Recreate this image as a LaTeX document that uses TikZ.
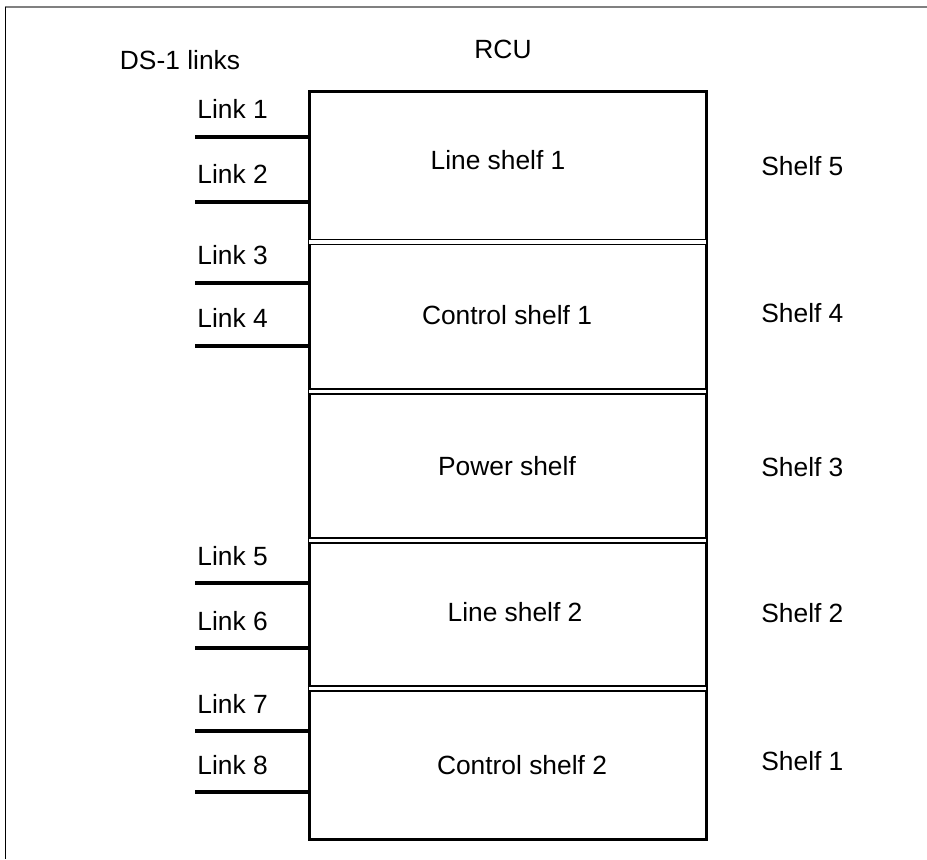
\documentclass[tikz,border=0pt]{standalone}
\usepackage{fontspec}
\setmainfont{Liberation Sans}
\usetikzlibrary{positioning}

\begin{document}
\begin{tikzpicture}[every node/.style={font=\fontsize{15}{18}\selectfont, inner sep=0pt}, x=0.2mm, y=-0.2mm,
  lab/.style={anchor=base west},
  mid/.style={anchor=base},
  linkline/.style={line width=0.75mm},
  divider/.style={line width=0.35mm, double, double distance=0.65mm}]
\useasboundingbox (0,0) rectangle (927,859);
% page frame
\draw[gray, line width=0.45mm] (5,7) -- (927,7);
\draw[line width=0.3mm] (5.5,7) -- (5.5,859);

\node[draw, line width=0.6mm, outer sep=0pt, minimum width=79.4mm, minimum height=149.4mm, anchor=north west] (rack) at (309,92) {};
\node[mid] (rcu) at (503,59) {RCU};
\node[mid] (ds) at (180,70) {DS-1 links};

% shelf dividers
\foreach \y in {242,391.5,540.5,688.5}
  \draw[divider] (rack.west |- 0,\y) -- (rack.east |- 0,\y);

% links
\foreach \n/\y in {1/137,2/202,3/283,4/346,5/583,6/648,7/731,8/792} {
  \coordinate (l\n) at (195,\y);
  \node[lab] (t\n) at (197,\y-18) {Link \n};
  \draw[linkline] (l\n) -- (l\n -| rack.west);
}

\node[mid] (ls1) at (498,170) {Line shelf 1};
\node[mid] (cs1) at (507,325) {Control shelf 1};
\node[mid] (ps) at (507,475) {Power shelf};
\node[mid] (ls2) at (515,621) {Line shelf 2};
\node[mid] (cs2) at (522,774) {Control shelf 2};

\foreach \n/\y in {5/176,4/322,3/476,2/622,1/770}
  \node[lab] (s\n) at (761,\y) {Shelf \n};
\end{tikzpicture}
\end{document}
